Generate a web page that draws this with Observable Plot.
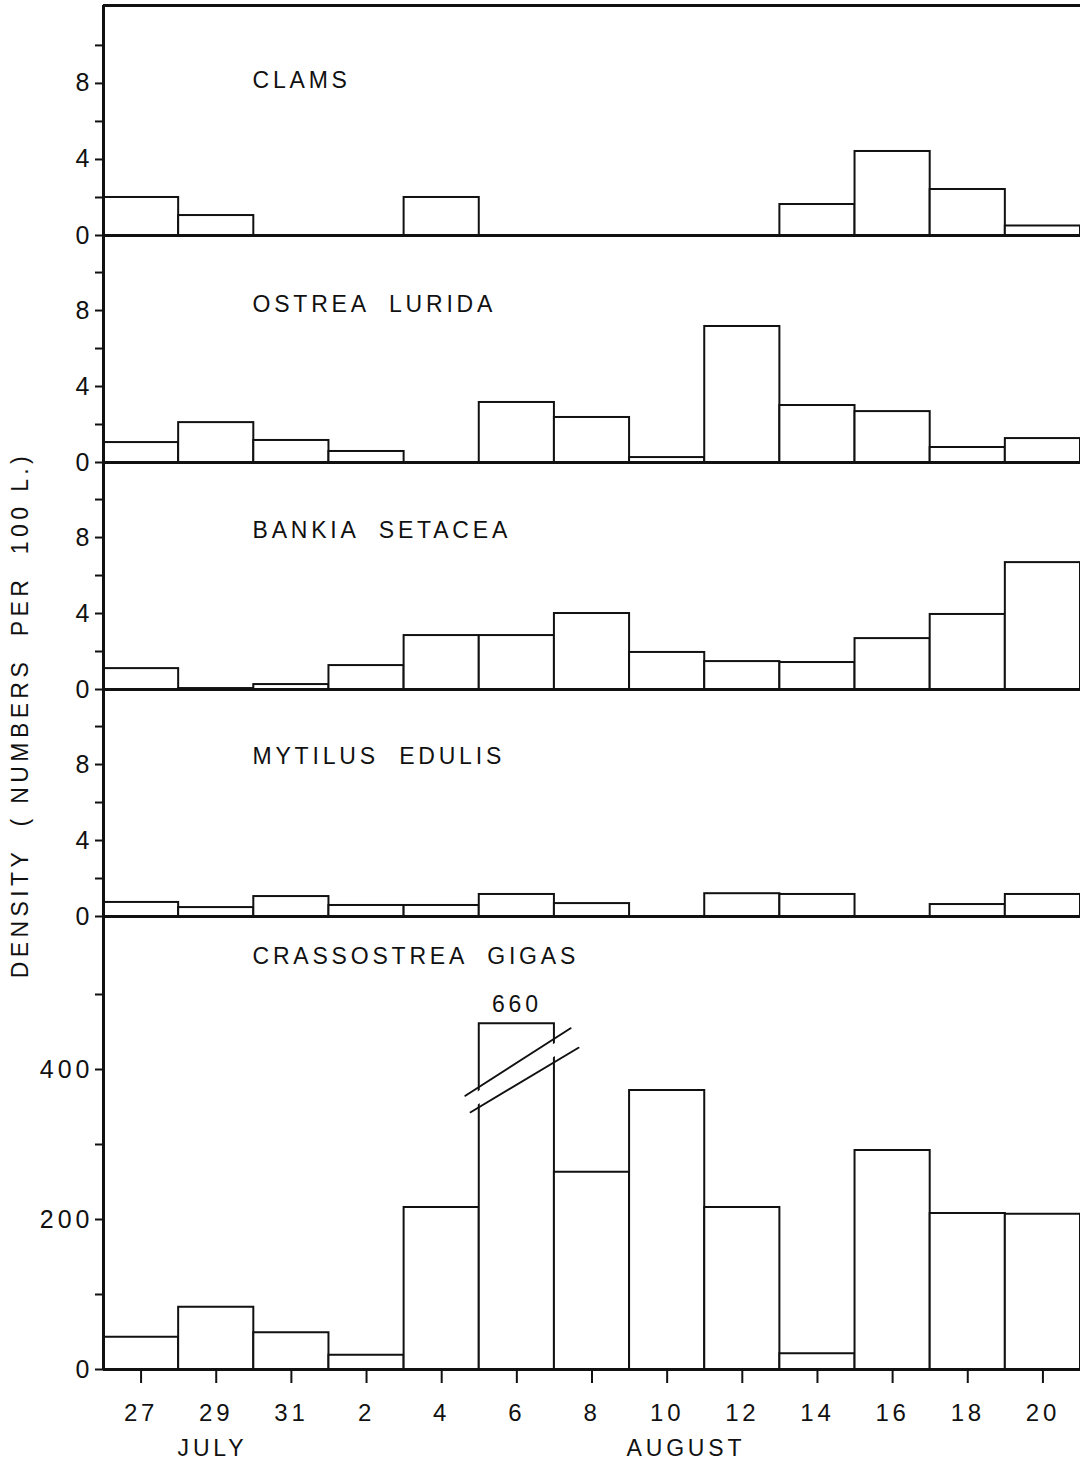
<!DOCTYPE html>
<html><head><meta charset="utf-8">
<script src="https://cdn.jsdelivr.net/npm/d3@7"></script>
<script src="https://cdn.jsdelivr.net/npm/@observablehq/plot@0.6"></script>
<style>
body{margin:0;background:#fff;}
#wrap{position:relative;width:1080px;height:1463px;overflow:hidden;background:#fff;font-family:"Liberation Sans",Arial,sans-serif;color:#111;}
#wrap svg{position:absolute;left:0;}
#ylab{position:absolute;left:20px;top:715px;transform:translate(-50%,-50%) rotate(-90deg);white-space:pre;font-size:23px;letter-spacing:4.4px;}
</style></head><body>
<div id="wrap"><div id="ylab">DENSITY  ( NUMBERS  PER  100 L.)</div></div>
<script>
// bin centres in days counted from July 0 (Aug d = 31 + d); each bin is 2 days wide
const binCenters = [27, 29, 31, 33, 35, 37, 39, 41, 43, 45, 47, 49, 51];
const tickLabels = ["27", "29", "31", "2", "4", "6", "8", "10", "12", "14", "16", "18", "20"];
const months = ["JULY", "AUGUST"];
const monthCenters = [28.9, 41.5];

const clams    = [2.0, 1.05, 0, 0, 2.0, 0, 0, 0, 0, 1.63, 4.42, 2.42, 0.5];
const ostrea   = [1.05, 2.1, 1.16, 0.58, 0, 3.16, 2.37, 0.26, 7.16, 3.0, 2.68, 0.79, 1.26];
const bankia   = [1.1, 0.05, 0.26, 1.26, 2.84, 2.84, 4.0, 1.95, 1.47, 1.42, 2.68, 3.95, 6.68];
const mytilus  = [0.74, 0.47, 1.05, 0.58, 0.58, 1.16, 0.68, 0, 1.2, 1.16, 0, 0.63, 1.16];
const gigas    = [43, 83, 49, 19, 216, 660, 263, 372, 216, 21, 292, 208, 207];
const gigasCap = 461; // broken bar drawn up to this value

const titles = ["CLAMS", "OSTREA  LURIDA", "BANKIA  SETACEA", "MYTILUS  EDULIS", "CRASSOSTREA  GIGAS"];

const FONT = '"Liberation Sans", Arial, sans-serif';
const wrap = document.getElementById("wrap");

function rowsOf(values, cap) {
  return values.map((v, i) => ({x1: binCenters[i] - 1, x2: binCenters[i] + 1, v, shown: cap ? Math.min(v, cap) : v}));
}

function panel({values, title, svgTop, marginTop, areaH, marginBottom, yMax, majors, minors, titleDy, topRule, xAxis, cap}) {
  const rows = rowsOf(values, cap);
  const marks = [
    Plot.rectY(rows, {x1: "x1", x2: "x2", y: "shown", fill: "white", stroke: "#111", strokeWidth: 2}),
    Plot.ruleY([0], {stroke: "#111", strokeWidth: 3}),
    Plot.ruleX([26], {stroke: "#111", strokeWidth: 3}),
    Plot.axisY(majors, {tickSize: 8, tickPadding: 2, strokeWidth: 2, fontSize: 25, label: null}),
    Plot.axisY(minors, {tickSize: 8, tickFormat: () => "", strokeWidth: 2, label: null}),
    Plot.text([title], {frameAnchor: "top-left", dx: 149, dy: titleDy, text: d => d, textAnchor: "start", lineAnchor: "middle", fontSize: 23})
  ];
  if (topRule) marks.push(Plot.ruleY([yMax], {stroke: "#111", strokeWidth: 3}));
  if (cap) {
    const bi = values.findIndex(v => v > cap);
    const b = rows[bi];
    const line1 = [{x: b.x1 - 0.37, y: cap - 96}, {x: b.x2 + 0.43, y: cap - 6}];
    const line2 = [{x: b.x1 - 0.23, y: cap - 118}, {x: b.x2 + 0.64, y: cap - 32}];
    const mid = [{x: b.x1 - 0.3, y: cap - 107}, {x: b.x2 + 0.5, y: cap - 19}];
    marks.push(
      Plot.line(mid, {x: "x", y: "y", stroke: "white", strokeWidth: 11}),
      Plot.line(line1, {x: "x", y: "y", stroke: "#111", strokeWidth: 2}),
      Plot.line(line2, {x: "x", y: "y", stroke: "#111", strokeWidth: 2}),
      Plot.text([b], {x: d => (d.x1 + d.x2) / 2, y: "shown", text: d => String(d.v), dy: -19, fontSize: 23})
    );
  }
  if (xAxis) {
    marks.push(
      Plot.axisX(binCenters, {tickSize: 14, tickPadding: 20, strokeWidth: 2, fontSize: 24, label: null,
        tickFormat: d => tickLabels[binCenters.indexOf(d)]}),
      Plot.text(months, {x: (d, i) => monthCenters[i], text: d => d, frameAnchor: "bottom", dy: 79, lineAnchor: "middle", fontSize: 23})
    );
  }
  const svg = Plot.plot({
    width: 1080,
    height: marginTop + areaH + marginBottom,
    marginLeft: 103, marginRight: 0, marginTop, marginBottom,
    x: {domain: [26, 52], axis: null, label: null},
    y: {domain: [0, yMax], axis: null, label: null},
    style: {fontFamily: FONT, fontSize: "23px", letterSpacing: "3.8px", background: "transparent", overflow: "visible", color: "#111"},
    marks
  });
  svg.querySelectorAll('g[aria-label="y-axis tick label"]').forEach(g => g.style.letterSpacing = "4px");
  svg.style.top = svgTop + "px";
  wrap.appendChild(svg);
}

const small = {majors: [0, 4, 8], minors: [2, 6, 10]};
panel({values: clams, title: titles[0], svgTop: 0, marginTop: 5, areaH: 230, marginBottom: 15, yMax: 12.1, ...small, titleDy: 75, topRule: true});
panel({values: ostrea, title: titles[1], svgTop: 220, marginTop: 15, areaH: 227, marginBottom: 15, yMax: 11.95, ...small, titleDy: 69});
panel({values: bankia, title: titles[2], svgTop: 447, marginTop: 15, areaH: 227, marginBottom: 15, yMax: 11.95, ...small, titleDy: 68});
panel({values: mytilus, title: titles[3], svgTop: 674, marginTop: 15, areaH: 227, marginBottom: 15, yMax: 11.95, ...small, titleDy: 67});
panel({values: gigas, title: titles[4], svgTop: 901, marginTop: 15, areaH: 453, marginBottom: 94, yMax: 604, majors: [0, 200, 400], minors: [100, 300, 500], titleDy: 40, xAxis: true, cap: gigasCap});
</script>
</body></html>
